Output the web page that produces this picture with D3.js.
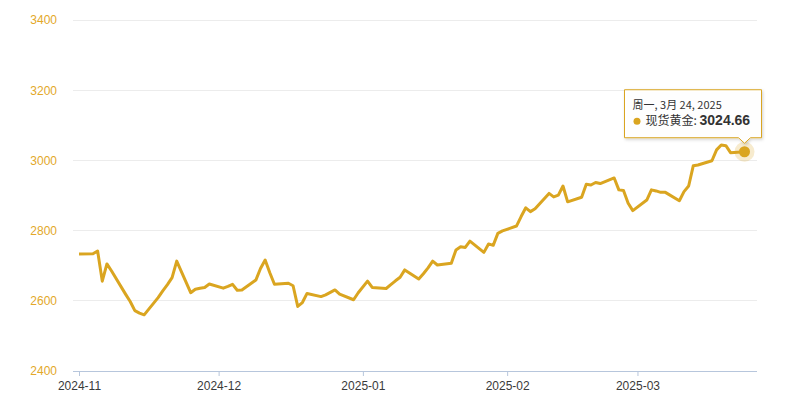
<!DOCTYPE html>
<html>
<head>
<meta charset="utf-8">
<script src="https://cdn.jsdelivr.net/npm/d3@7"></script>
<style>
  html, body { margin: 0; padding: 0; background: #fff; }
  svg { display: block; }
</style>
</head>
<body>
<svg id="chart" width="786" height="403"></svg>
<script>
// ---- data ----
const dates = [
  "2024-11-01","2024-11-04","2024-11-05","2024-11-06","2024-11-07","2024-11-08",
  "2024-11-11","2024-11-12","2024-11-13","2024-11-14","2024-11-15",
  "2024-11-18","2024-11-19","2024-11-20","2024-11-21","2024-11-22",
  "2024-11-25","2024-11-26","2024-11-27","2024-11-28","2024-11-29",
  "2024-12-02","2024-12-03","2024-12-04","2024-12-05","2024-12-06",
  "2024-12-09","2024-12-10","2024-12-11","2024-12-12","2024-12-13",
  "2024-12-16","2024-12-17","2024-12-18","2024-12-19","2024-12-20",
  "2024-12-23","2024-12-24","2024-12-26","2024-12-27",
  "2024-12-30","2024-12-31","2025-01-02","2025-01-03",
  "2025-01-06","2025-01-07","2025-01-08","2025-01-09","2025-01-10",
  "2025-01-13","2025-01-14","2025-01-15","2025-01-16","2025-01-17",
  "2025-01-20","2025-01-21","2025-01-22","2025-01-23","2025-01-24",
  "2025-01-27","2025-01-28","2025-01-29","2025-01-30","2025-01-31",
  "2025-02-03","2025-02-04","2025-02-05","2025-02-06","2025-02-07",
  "2025-02-10","2025-02-11","2025-02-12","2025-02-13","2025-02-14",
  "2025-02-17","2025-02-18","2025-02-19","2025-02-20","2025-02-21",
  "2025-02-24","2025-02-25","2025-02-26","2025-02-27","2025-02-28",
  "2025-03-03","2025-03-04","2025-03-05","2025-03-06","2025-03-07",
  "2025-03-10","2025-03-11","2025-03-12","2025-03-13","2025-03-14",
  "2025-03-17","2025-03-18","2025-03-19","2025-03-20","2025-03-21",
  "2025-03-24"
];
const prices = [
  2733,2734,2742,2656,2705,2685,
  2619,2598,2572,2565,2560,
  2609,2628,2646,2666,2713,
  2623,2633,2636,2638,2648,
  2636,2641,2647,2630,2631,
  2659,2692,2716,2680,2647,
  2650,2643,2584,2595,2621,
  2612,2617,2631,2619,
  2603,2623,2656,2638,
  2635,2646,2657,2667,2688,
  2662,2677,2694,2713,2702,
  2707,2745,2754,2752,2770,
  2738,2762,2758,2792,2799,
  2813,2840,2865,2854,2862,
  2906,2896,2901,2927,2882,
  2895,2932,2930,2937,2934,
  2950,2916,2914,2878,2857,
  2887,2916,2913,2909,2909,
  2885,2911,2927,2985,2987,
  2999,3030,3044,3042,3022,
  3024.66
];
const yTicks = [2400, 2600, 2800, 3000, 3200, 3400];
const seriesName = "现货黄金";
const tooltipDate = "周一, 3月 24, 2025";
const highlightIndex = dates.length - 1;

// ---- layout ----
const W = 786, H = 403;
const gridLeft = 73, gridRight = 757, gridTop = 20, gridBottom = 371;
const lineColor = "#DAA520";
const labelFont = "'Liberation Sans', Arial, sans-serif";
const cjkFont = "'Noto Sans CJK SC', 'Liberation Sans', sans-serif";

const parse = d3.timeParse("%Y-%m-%d");
const data = dates.map((d, i) => ({ date: parse(d), value: prices[i] }));

const svg = d3.select("#chart");

const x = d3.scaleTime()
  .domain([parse(dates[0]), parse(dates[dates.length - 1])])
  .range([79, 744.5]);
const y = d3.scaleLinear().domain([2400, 3400]).range([gridBottom, gridTop]);

// grid lines
svg.append("g")
  .selectAll("line")
  .data(yTicks.filter(t => t !== 2400))
  .join("line")
  .attr("x1", gridLeft).attr("x2", gridRight)
  .attr("y1", d => y(d)).attr("y2", d => y(d))
  .attr("stroke", "#ececec").attr("stroke-width", 1)
  .attr("shape-rendering", "crispEdges");

// y axis labels
const yAxis = d3.axisLeft(y).tickValues(yTicks).tickSize(0).tickPadding(0).tickFormat(d3.format("d"));
const gy = svg.append("g").attr("transform", `translate(57,0)`).call(yAxis);
gy.select(".domain").remove();
gy.selectAll("text")
  .attr("fill", "#E3A829")
  .attr("font-size", 12)
  .attr("font-family", labelFont);

// x axis
const xAxis = d3.axisBottom(x)
  .ticks(d3.timeMonth.every(1))
  .tickFormat(d3.timeFormat("%Y-%m"))
  .tickSize(5).tickSizeOuter(0).tickPadding(5);
const gx = svg.append("g").attr("transform", `translate(0,${gridBottom})`).call(xAxis);
gx.select(".domain").remove();
gx.selectAll(".tick line").attr("stroke", "#b7c6dc");
gx.selectAll("text")
  .attr("fill", "#3a3a3a")
  .attr("font-size", 12)
  .attr("font-family", labelFont);
svg.append("line")
  .attr("x1", gridLeft).attr("x2", gridRight)
  .attr("y1", gridBottom + 0.5).attr("y2", gridBottom + 0.5)
  .attr("stroke", "#b7c6dc").attr("stroke-width", 1);

// line
const line = d3.line().x(d => x(d.date)).y(d => y(d.value));
svg.append("path")
  .datum(data)
  .attr("fill", "none")
  .attr("stroke", lineColor)
  .attr("stroke-width", 3)
  .attr("stroke-linejoin", "round")
  .attr("d", line);

// highlighted point
const hp = data[highlightIndex];
const hx = x(hp.date), hy = y(hp.value);
svg.append("circle").attr("cx", hx).attr("cy", hy).attr("r", 10)
  .attr("fill", lineColor).attr("fill-opacity", 0.22);
svg.append("circle").attr("cx", hx).attr("cy", hy).attr("r", 5.5)
  .attr("fill", lineColor);

// tooltip
const defs = svg.append("defs");
const f = defs.append("filter").attr("id", "shadow").attr("x", "-20%").attr("y", "-20%").attr("width", "140%").attr("height", "150%");
f.append("feDropShadow").attr("dx", 1).attr("dy", 1.5).attr("stdDeviation", 1.5).attr("flood-color", "#000").attr("flood-opacity", 0.18);

const bx0 = hx - 120, bx1 = hx + 17, by0 = hy - 62, by1 = hy - 14, tipY = hy - 8.5;
const tipPath = `M${bx0},${by0} H${bx1} V${by1} H${hx + 6} L${hx},${tipY} L${hx - 6},${by1} H${bx0} Z`;
const tt = svg.append("g");
tt.append("path")
  .attr("d", tipPath)
  .attr("fill", "#fff").attr("fill-opacity", 0.96)
  .attr("stroke", lineColor).attr("stroke-width", 1)
  .attr("filter", "url(#shadow)");
tt.append("text")
  .attr("x", bx0 + 8).attr("y", by0 + 19)
  .attr("font-size", 11).attr("font-family", cjkFont).attr("fill", "#333")
  .text(tooltipDate);
tt.append("circle")
  .attr("cx", bx0 + 12.5).attr("cy", by0 + 31.5).attr("r", 3.5)
  .attr("fill", lineColor);
const t2 = tt.append("text")
  .attr("x", bx0 + 21).attr("y", by0 + 35.5)
  .attr("font-family", cjkFont).attr("fill", "#333");
t2.append("tspan").attr("font-size", 12).text(seriesName + ": ");
t2.append("tspan").attr("font-size", 14).attr("font-weight", "bold")
  .attr("font-family", labelFont).text(d3.format(".2f")(hp.value));
</script>
</body>
</html>
